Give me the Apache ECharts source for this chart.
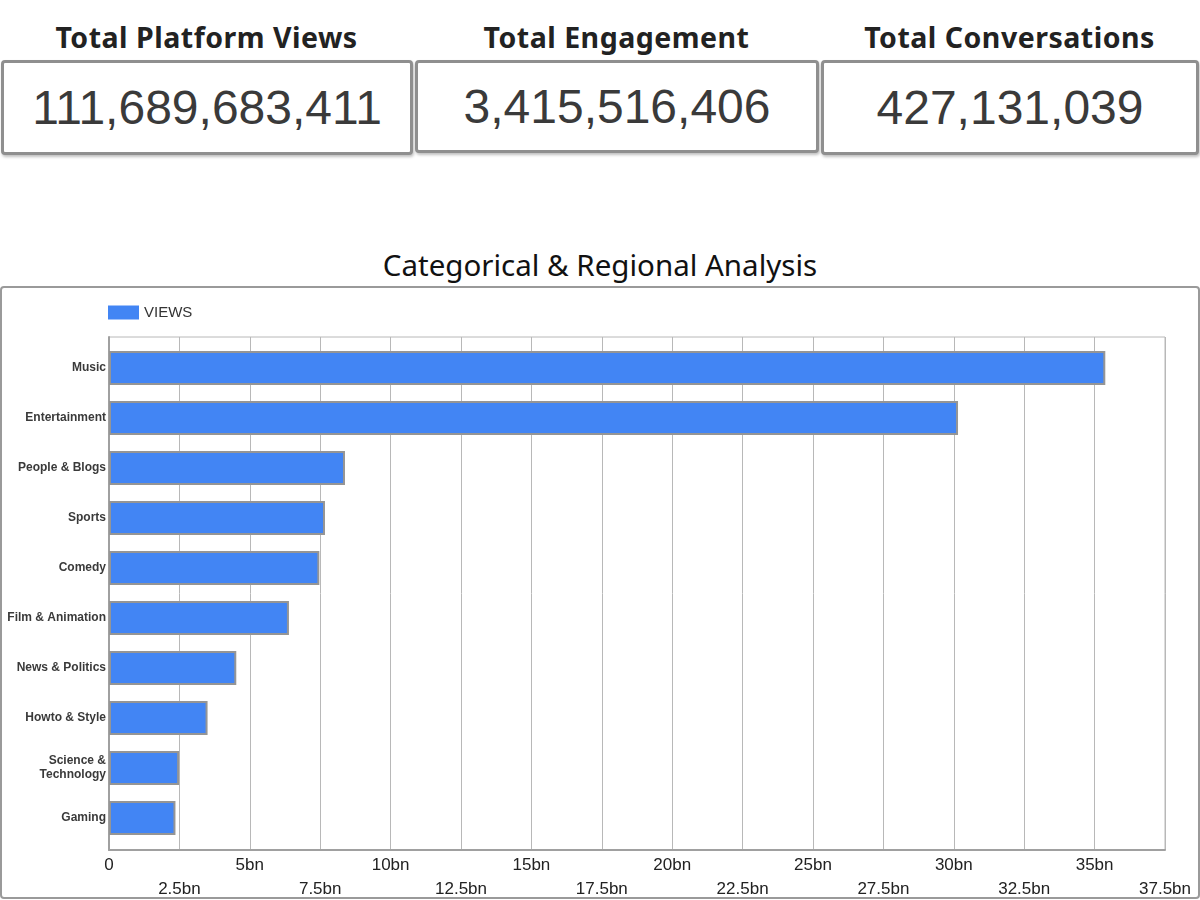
<!DOCTYPE html>
<html>
<head>
<meta charset="utf-8">
<script src="https://cdn.jsdelivr.net/npm/echarts@6/dist/echarts.min.js"></script>
<style>
  html, body { margin: 0; padding: 0; background: #fff; width: 1200px; height: 900px; overflow: hidden; position: relative; }
  .ktitle { position: absolute; top: 18px; font-family: "Comic Sans MS", "Noto Sans", sans-serif; font-weight: bold; font-size: 28.5px; color: #222; text-align: center; letter-spacing: 0.5px; }
  .card { position: absolute; top: 60px; height: 95px; border: 3px solid #8f8f8f; border-radius: 4px; box-shadow: 1px 2px 3px rgba(0,0,0,0.25); box-sizing: border-box; display: flex; align-items: center; justify-content: center; font-family: "Liberation Sans", Arial, sans-serif; font-size: 48px; color: #3a3a3a; background: #fff; }
  #ctitle { position: absolute; left: 0; width: 1200px; top: 244px; text-align: center; font-family: "Comic Sans MS", "Noto Sans", sans-serif; font-size: 29.5px; color: #111; }
  #chartbox { position: absolute; left: 0; top: 286px; width: 1200px; height: 613px; border: 2px solid #9a9a9a; border-radius: 4px; box-sizing: border-box; }
  #chart { position: absolute; left: 0; top: 286px; width: 1200px; height: 613px; }
</style>
</head>
<body>
<div id="k1t" class="ktitle" style="left:1px;width:411px;"></div>
<div id="k2t" class="ktitle" style="left:415px;width:403px;"></div>
<div id="k3t" class="ktitle" style="left:821px;width:377px;"></div>
<div id="k1" class="card" style="left:1px;width:412px;"></div>
<div id="k2" class="card" style="left:415px;width:404px;height:93px;"></div>
<div id="k3" class="card" style="left:821px;width:378px;"></div>
<div id="ctitle">Categorical &amp; Regional Analysis</div>
<div id="chartbox"></div>
<div id="chart"></div>
<script>
// KPI cards
const kpiLabels = ["Total Platform Views", "Total Engagement", "Total Conversations"];
const kpiValues = [111689683411, 3415516406, 427131039];

// Chart data (views in billions)
const categories = ["Music", "Entertainment", "People & Blogs", "Sports", "Comedy", "Film & Animation", "News & Politics", "Howto & Style", "Science &\nTechnology", "Gaming"];
const views = [35.38, 30.15, 8.38, 7.67, 7.47, 6.39, 4.52, 3.50, 2.49, 2.36];
const seriesName = "VIEWS";
const axisMin = 0, axisMax = 37.5, axisStep = 2.5;

["k1", "k2", "k3"].forEach((id, i) => {
  document.getElementById(id + "t").textContent = kpiLabels[i];
  document.getElementById(id).textContent = kpiValues[i].toLocaleString("en-US");
});

const FONT = "Liberation Sans, Arial, sans-serif";
const chart = echarts.init(document.getElementById("chart"));
chart.setOption({
  animation: false,
  legend: {
    left: 108, top: 19, padding: 0,
    itemWidth: 31, itemHeight: 14, itemGap: 8,
    icon: "rect",
    itemStyle: { borderWidth: 0 },
    textStyle: { fontFamily: FONT, fontSize: 15, color: "#333" },
    data: [seriesName]
  },
  grid: [
    { // frame, value grid lines and value axis
      left: 109, top: 51, width: 1056, height: 513,
      show: true, borderColor: "#b8b8b8", borderWidth: 1,
      containLabel: false, outerBoundsMode: "none"
    },
    { // category band area (inset as in the original)
      left: 109, top: 57, width: 1056, height: 500,
      containLabel: false, outerBoundsMode: "none"
    }
  ],
  xAxis: [
    {
      gridIndex: 0, type: "value",
      min: axisMin, max: axisMax, interval: axisStep,
      axisLine: { show: true, lineStyle: { color: "#a0a0a0", width: 2 } },
      axisTick: { show: false },
      splitLine: { show: true, lineStyle: { color: "#b8b8b8", width: 1 } },
      axisLabel: {
        margin: 3,
        fontFamily: FONT, fontSize: 17, color: "#222", lineHeight: 24,
        formatter: function (v) {
          const idx = Math.round(v / axisStep);
          const t = v === 0 ? "0" : v + "bn";
          return idx % 2 === 1 ? "\n" + t : t;
        }
      }
    },
    {
      gridIndex: 1, type: "value",
      min: axisMin, max: axisMax, interval: axisStep,
      show: false
    }
  ],
  yAxis: [
    {
      gridIndex: 0, type: "category", inverse: true, data: categories,
      axisLine: { show: true, lineStyle: { color: "#a0a0a0", width: 2 } },
      axisTick: { show: false },
      axisLabel: { show: false },
      splitLine: { show: false }
    },
    {
      gridIndex: 1, type: "category", inverse: true, data: categories,
      axisLine: { show: false },
      axisTick: { show: false },
      axisLabel: {
        margin: 3,
        fontFamily: FONT, fontSize: 12, fontWeight: "bold", color: "#3a3a3a", lineHeight: 14
      }
    }
  ],
  series: [{
    name: seriesName,
    type: "bar",
    xAxisIndex: 1, yAxisIndex: 1,
    data: views,
    barWidth: 34,
    itemStyle: { color: "#4285f4", borderColor: "#959595", borderWidth: 2 }
  }]
});
</script>
</body>
</html>
